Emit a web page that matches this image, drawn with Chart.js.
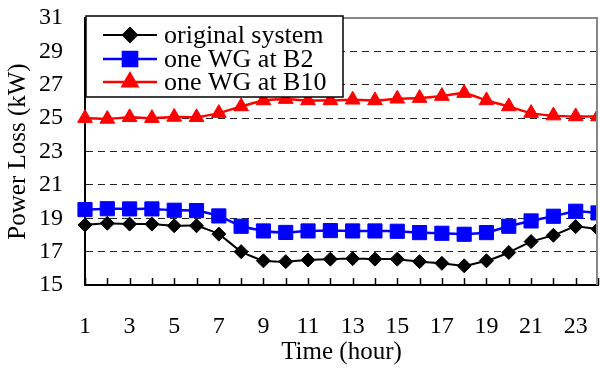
<!DOCTYPE html>
<html>
<head>
<meta charset="utf-8">
<script src="https://cdn.jsdelivr.net/npm/chart.js@4/dist/chart.umd.min.js"></script>
<style>
  html, body { margin: 0; padding: 0; background: #fff; }
  #wrap { width: 600px; height: 369px; }
</style>
</head>
<body>
<div id="wrap"><canvas id="c" width="600" height="369"></canvas></div>
<script>
const hours = [1,2,3,4,5,6,7,8,9,10,11,12,13,14,15,16,17,18,19,20,21,22,23,24];
const originalSystem = [18.6,18.7,18.65,18.65,18.55,18.55,18.05,17.0,16.45,16.4,16.5,16.55,16.58,16.55,16.55,16.4,16.3,16.15,16.45,16.95,17.6,17.98,18.5,18.35];
const wgAtB2 = [19.52,19.57,19.56,19.56,19.48,19.46,19.14,18.52,18.24,18.15,18.24,18.26,18.24,18.24,18.22,18.14,18.1,18.04,18.14,18.52,18.84,19.12,19.42,19.32];
const wgAtB10 = [25.0,24.95,25.05,25.0,25.07,25.05,25.3,25.7,26.06,26.14,26.06,26.06,26.1,26.06,26.16,26.2,26.32,26.5,26.06,25.7,25.3,25.15,25.1,25.1];
const seriesNames = ['original system','one WG at B2','one WG at B10'];
const yTicks = [15,17,19,21,23,25,27,29,31];

const serif = '"Liberation Serif", "Times New Roman", serif';

const frameAndTicks = {
  id: 'frameAndTicks',
  beforeDatasetsDraw(chart) {
    const {ctx, chartArea: a} = chart;
    const xs = chart.scales.x;
    ctx.save();
    ctx.strokeStyle = '#000';
    ctx.lineWidth = 1.5;
    hours.forEach(h => {
      const px = Math.round(xs.getPixelForValue(h)) + 0.5;
      ctx.beginPath();
      ctx.moveTo(px, a.bottom);
      ctx.lineTo(px, a.bottom - 7);
      ctx.stroke();
    });
    ctx.restore();
  },
  afterDatasetsDraw(chart) {
    const {ctx, chartArea: a} = chart;
    ctx.save();
    ctx.strokeStyle = '#888';
    ctx.lineWidth = 2;
    ctx.beginPath();
    ctx.moveTo(a.left, a.top);
    ctx.lineTo(a.right - 1, a.top);
    ctx.lineTo(a.right - 1, a.bottom);
    ctx.stroke();
    ctx.restore();
  }
};

const boxLegend = {
  id: 'boxLegend',
  afterDraw(chart) {
    const {ctx, chartArea: a} = chart;
    const x0 = a.left + 1, y0 = a.top - 2, w = 257, h = 81;
    const rows = [19, 43, 66];
    ctx.save();
    ctx.fillStyle = '#fff';
    ctx.fillRect(x0, y0, w, h);
    ctx.strokeStyle = '#000';
    ctx.lineWidth = 1.5;
    ctx.strokeRect(x0, y0, w, h);
    chart.data.datasets.forEach((ds, i) => {
      const cy = y0 + rows[i];
      ctx.strokeStyle = ds.borderColor;
      ctx.lineWidth = ds.borderWidth;
      ctx.beginPath();
      ctx.moveTo(x0 + 17, cy);
      ctx.lineTo(x0 + 71, cy);
      ctx.stroke();
      ctx.fillStyle = ds.pointBackgroundColor;
      ctx.strokeStyle = ds.pointBorderColor;
      Chart.helpers.drawPoint(ctx, {pointStyle: ds.pointStyle, radius: ds.pointRadius, borderWidth: ds.pointBorderWidth, rotation: 0}, x0 + 44, cy);
      ctx.fillStyle = '#000';
      ctx.font = '26px ' + serif;
      ctx.textBaseline = 'middle';
      ctx.textAlign = 'left';
      ctx.fillText(ds.label, x0 + 78, cy + 1);
    });
    ctx.restore();
  }
};

const mk = (label, data, color, style, r, bw) => ({
  label, data: data.map((v, i) => ({x: hours[i], y: v})),
  borderColor: color, backgroundColor: color,
  pointBackgroundColor: color, pointBorderColor: color,
  pointStyle: style, pointRadius: r, pointHoverRadius: r, pointBorderWidth: 1,
  borderWidth: bw, tension: 0.12,
  clip: {left: false, top: false, right: 0, bottom: false}
});

new Chart(document.getElementById('c'), {
  type: 'line',
  data: {
    datasets: [
      mk(seriesNames[0], originalSystem, '#000000', 'rectRot', 7, 2),
      mk(seriesNames[1], wgAtB2, '#0000FF', 'rect', 10, 2.5),
      mk(seriesNames[2], wgAtB10, '#FF0000', 'triangle', 8.5, 2.5)
    ]
  },
  options: {
    responsive: false,
    animation: false,
    events: [],
    layout: {autoPadding: false, padding: {top: 18, right: 2, left: 0, bottom: 0}},
    plugins: {legend: {display: false}, tooltip: {enabled: false}},
    scales: {
      x: {
        type: 'linear', min: 1, max: 24, offset: false,
        afterFit: s => { s.height = 84; s.paddingLeft = 0; s.paddingRight = 0; },
        afterBuildTicks: s => { s.ticks = hours.map(h => ({value: h})); },
        ticks: {
          autoSkip: false, maxRotation: 0, padding: 27,
          color: '#000', font: {family: serif, size: 24},
          callback: v => (v % 2 === 1 ? String(v) : '')
        },
        grid: {display: true, drawOnChartArea: false, drawTicks: false},
        border: {display: true, color: '#000', width: 2},
        title: {display: true, text: 'Time (hour)', color: '#000', font: {family: serif, size: 25}, padding: {top: 0, bottom: 2}}
      },
      y: {
        min: 15, max: 31,
        afterFit: s => { s.width = 85; s.paddingTop = 0; s.paddingBottom = 0; },
        afterBuildTicks: s => { s.ticks = yTicks.map(v => ({value: v})); },
        ticks: {autoSkip: false, padding: 22, color: '#000', font: {family: serif, size: 24}},
        grid: {color: '#222', lineWidth: 1, drawTicks: false},
        border: {display: true, color: '#000', width: 2, dash: [7, 5]},
        title: {display: true, text: 'Power Loss (kW)', color: '#000', font: {family: serif, size: 25}, padding: {top: 3, bottom: 0}}
      }
    }
  },
  plugins: [frameAndTicks, boxLegend]
});
</script>
</body>
</html>
